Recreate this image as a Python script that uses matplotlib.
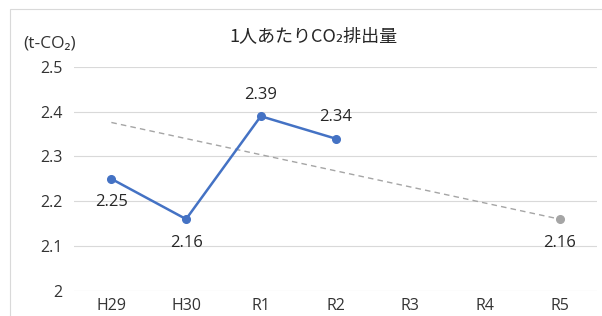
import matplotlib
matplotlib.use("Agg")
import matplotlib.pyplot as plt
from matplotlib.patches import Rectangle

plt.rcParams['font.family'] = ['Open Sans', 'Noto Sans CJK JP', 'DejaVu Sans']

categories = ["H29", "H30", "R1", "R2", "R3", "R4", "R5"]
actual = [2.25, 2.16, 2.39, 2.34]
target_start = 2.376
target_end = 2.16
title = "1人あたりCO₂排出量"
unit = "(t-CO₂)"
yticks = [2.0, 2.1, 2.2, 2.3, 2.4, 2.5]
ytick_labels = ["2", "2.1", "2.2", "2.3", "2.4", "2.5"]

fig = plt.figure(figsize=(6.02, 3.16), dpi=100)
fig.patches.append(Rectangle((10/602, -0.1), 1.0, 1 - 9/316 + 0.1,
                             transform=fig.transFigure, fill=False,
                             edgecolor="#D9D9D9", linewidth=0.8))
ax = fig.add_axes([74/602, 25.3/316, (597-74)/602, (290.7-67)/316])

x = list(range(len(categories)))
ax.set_xlim(-0.5, len(categories) - 0.5)
ax.set_ylim(2.0, 2.5)
for v in yticks:
    ax.axhline(v, color="#D9D9D9", linewidth=0.8, zorder=0)

# target dashed line
ax.plot([0, len(categories) - 1], [target_start, target_end], color="#A5A5A5",
        linestyle=(0, (4, 3)), linewidth=1.0, zorder=2)
ax.plot([len(categories) - 1], [target_end], marker="o", color="#A5A5A5",
        markersize=5.5, zorder=3)

ax.plot(x[:len(actual)], actual, color="#4472C4", linewidth=1.8, marker="o",
        markersize=5.5, zorder=4)

offsets = [-16.5, -17.5, 15.5, 15.5]
for xi, v, off in zip(x, actual, offsets):
    ax.annotate(f"{v:.2f}", (xi, v), xytext=(0, off), textcoords="offset points",
                ha="center", va="center", fontsize=12, color="#262626")
ax.annotate(f"{target_end:.2f}", (len(categories) - 1, target_end), xytext=(0, -17.5),
            textcoords="offset points", ha="center", va="center", fontsize=12,
            color="#262626")

ax.set_yticks(yticks)
ax.set_yticklabels(ytick_labels)
ax.set_xticks(x)
ax.set_xticklabels(categories)
ax.tick_params(axis="y", length=0, pad=8.5, labelsize=11.5, labelcolor="#333333")
ax.tick_params(axis="x", length=0, pad=5, labelsize=11.5, labelcolor="#333333")
for s in ax.spines.values():
    s.set_visible(False)

fig.text(313/602, 1 - 36.5/316, title, ha="center", va="center", fontsize=13,
         color="#262626", family=['Noto Sans CJK JP', 'DejaVu Sans'])
fig.text(50/602, 1 - 43/316, unit, ha="center", va="center", fontsize=12.5,
         color="#333333")

fig.savefig("out.png", dpi=100)
